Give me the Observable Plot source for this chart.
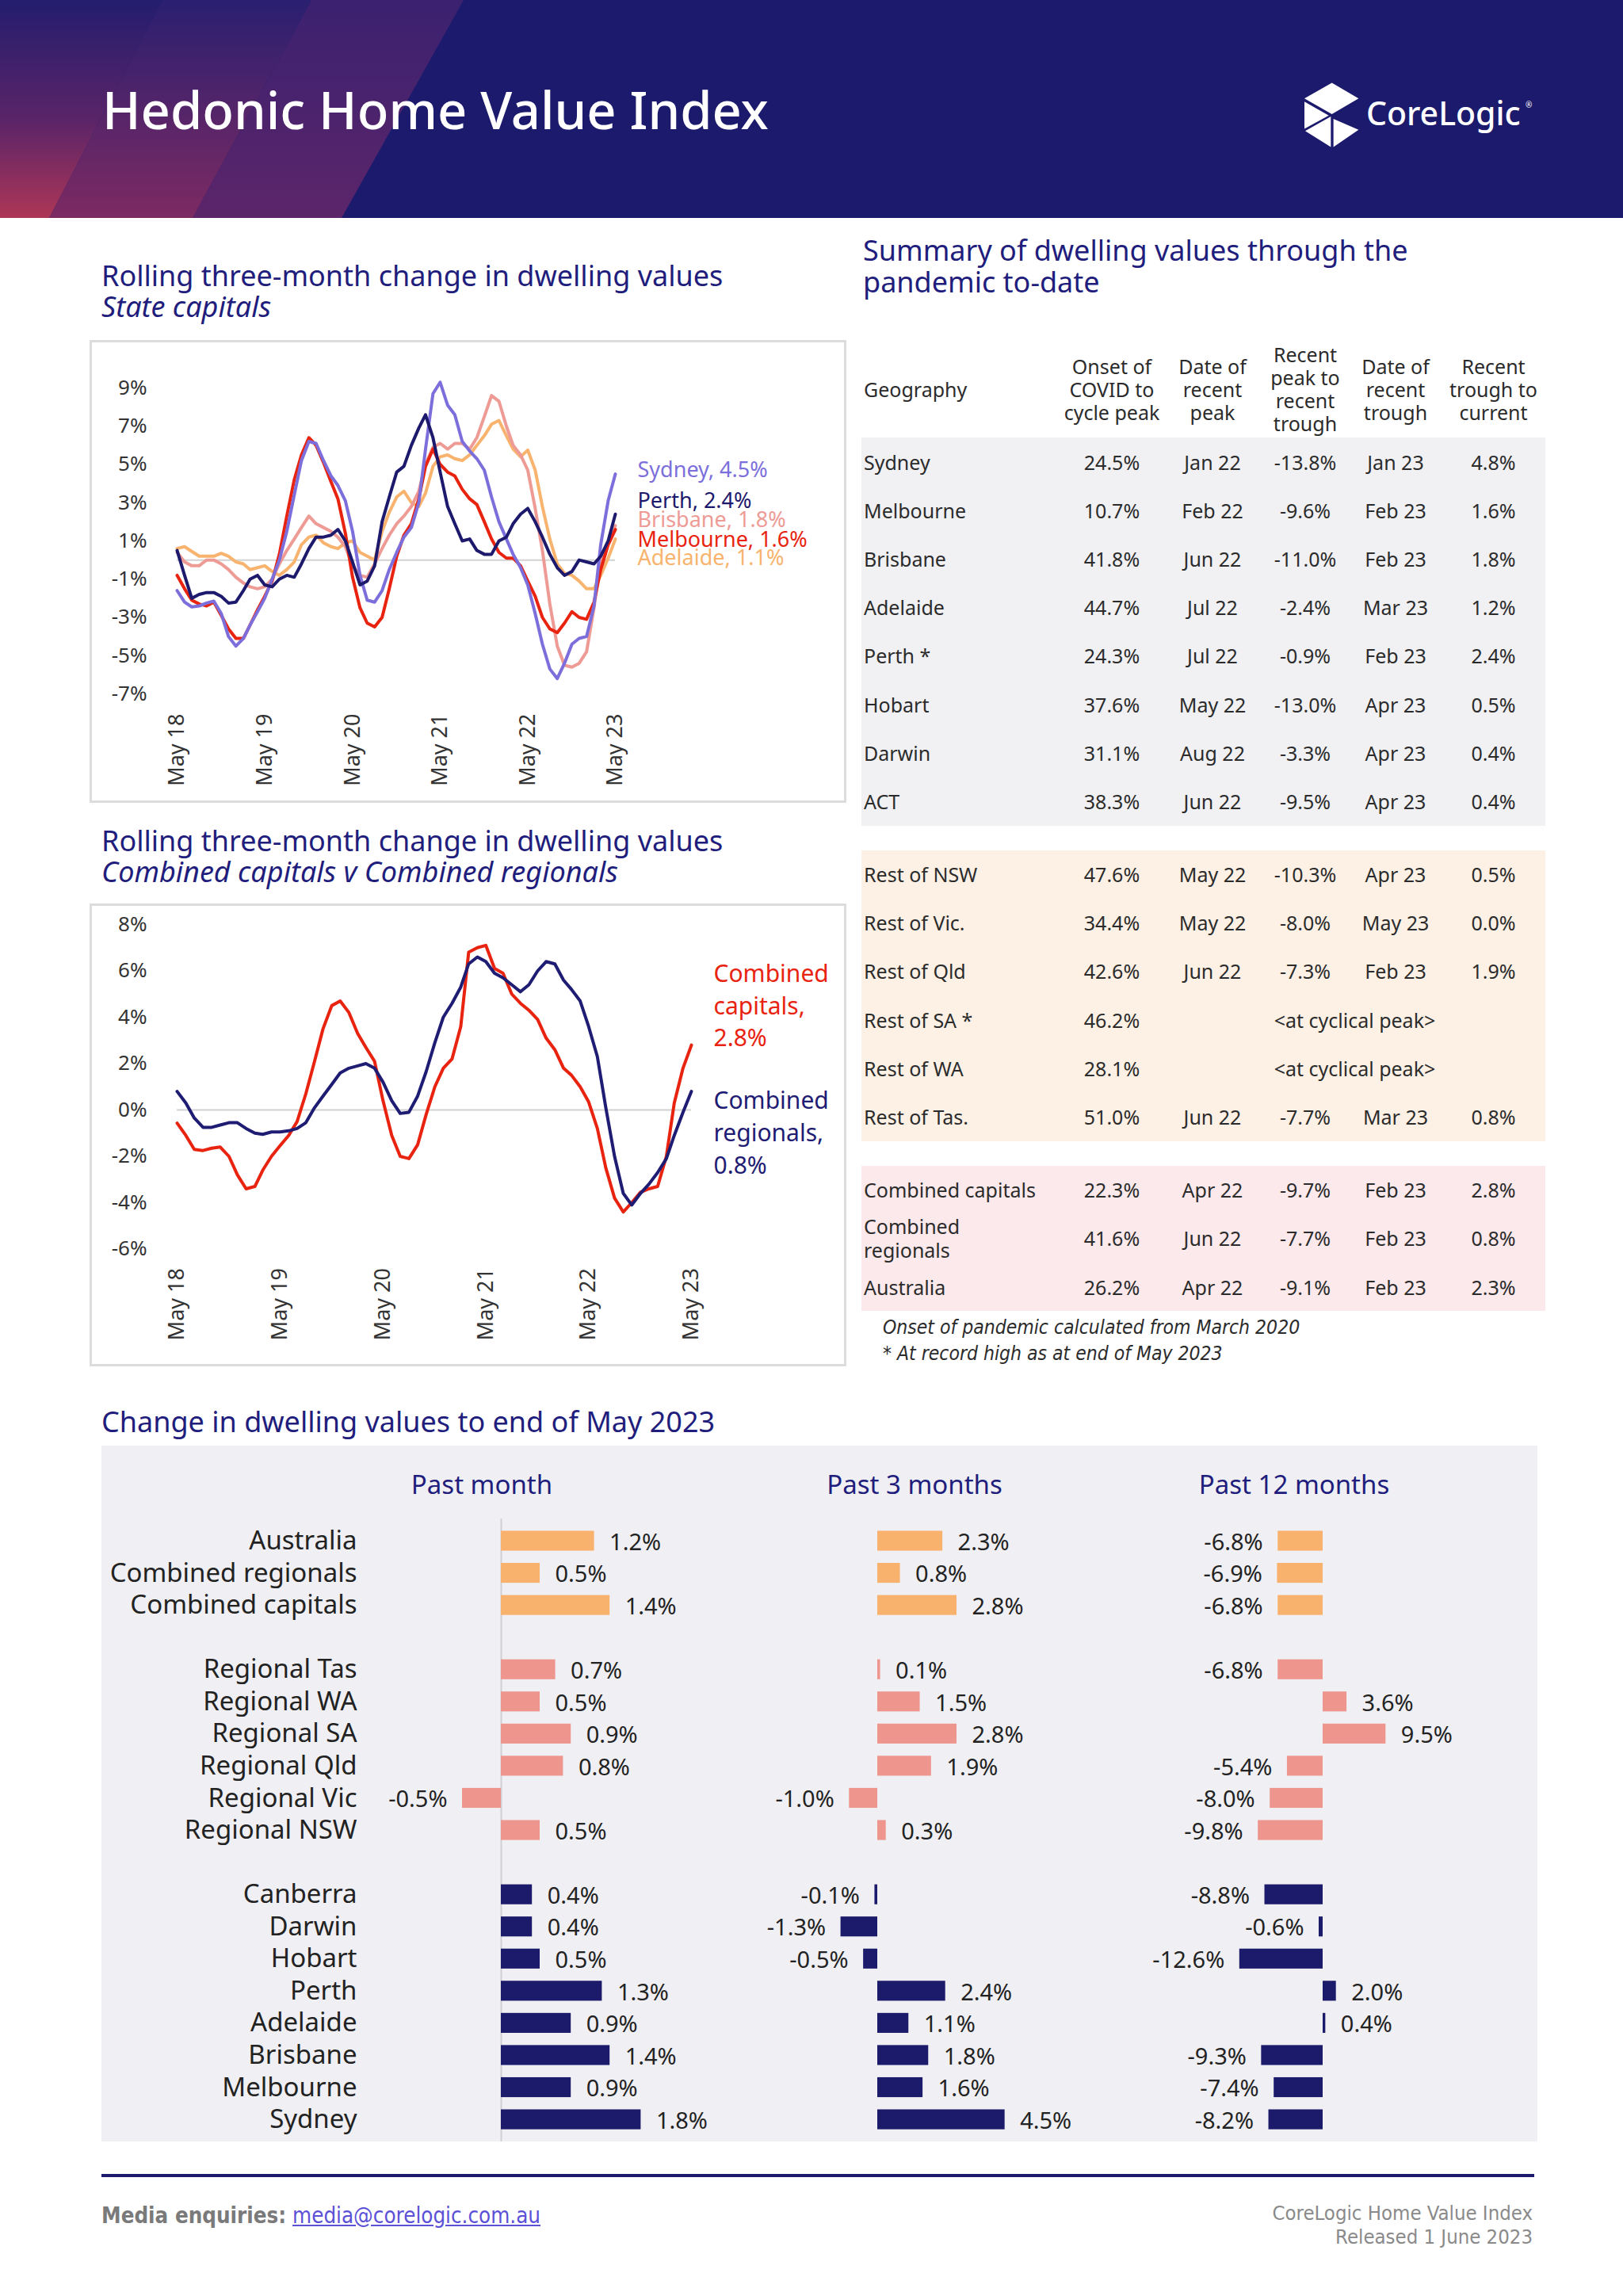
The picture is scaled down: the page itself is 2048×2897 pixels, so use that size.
<!DOCTYPE html>
<html>
<head>
<meta charset="utf-8">
<title>Hedonic Home Value Index</title>
<script src="https://cdn.jsdelivr.net/npm/d3@7"></script>
<script src="https://cdn.jsdelivr.net/npm/@observablehq/plot@0.6"></script>
<style>
html,body{margin:0;padding:0;background:#fff;}
#page{position:relative;width:2048px;height:2897px;overflow:hidden;background:#fff;font-family:"Noto Sans",sans-serif;color:#2b2b2b;}
.t{position:absolute;white-space:pre;}
#header{position:absolute;left:0;top:0;width:2048px;height:275px;background:#1c1a6c;overflow:hidden;}
.stripe{position:absolute;left:0;top:0;width:700px;height:275px;}
.box{position:absolute;border:3px solid #dcdcdc;box-sizing:border-box;}
.panel{position:absolute;background:#f0f0f4;}
table.summary{position:absolute;left:1087px;top:430px;width:863px;border-collapse:collapse;table-layout:fixed;font-size:25px;color:#2b2b2b;}
table.summary th{font-weight:400;height:122px;line-height:29px;padding:0;text-align:center;vertical-align:middle;white-space:pre-line;}
table.summary th.geo{text-align:left;padding-left:3px;}
table.summary td{height:61.2px;padding:0;text-align:center;vertical-align:middle;line-height:30px;white-space:pre-line;}
table.summary td.geo{text-align:left;padding-left:3px;}
table.summary tr.b0 td{background:#f1f1f4;}
table.summary tr.b1 td{background:#fdf1e6;}
table.summary tr.b2 td{background:#fbe9eb;}
table.summary tr.sp td{height:31px;background:transparent;}
svg.plot{position:absolute;}
a.mail{color:#5b50d6;text-decoration:underline;}
</style>
</head>
<body>
<div id="page">
  <div id="header">
    <div class="stripe" style="clip-path:polygon(393px 0,585px 0,431px 275px,243px 275px);background:linear-gradient(to bottom,#3b2170,#5c256a);"></div>
    <div class="stripe" style="clip-path:polygon(205px 0,393px 0,243px 275px,62px 275px);background:linear-gradient(to bottom,#2a1f70,#7d2a62);"></div>
    <div class="stripe" style="clip-path:polygon(0 0,205px 0,62px 275px,0 275px);background:linear-gradient(to bottom,#241d6e 0%,#5a2468 55%,#ad3656 100%);"></div>
    <svg style="position:absolute;left:1645px;top:103px;" width="70" height="84" viewBox="42 35 212 252">
      <polygon fill="#fff" points="45,98 150,38 252,98 150,158"/>
      <polygon fill="#fff" points="45,110 138,163 45,214"/>
      <polygon fill="#fff" points="48,222 146,167 146,284"/>
      <polygon fill="#fff" points="156,176 252,218 156,284"/>
    </svg>
  </div>
</div>
<script>
// ---------------- DATA ----------------
const monthStart = new Date(2018, 4, 1);
const monthEnd = new Date(2023, 5, 1);

// Rolling three-month change, state capitals (May 2018 .. May 2023, monthly)
const sydneyValues = [-1.6,-2.2,-2.45,-2.4,-2.25,-2.15,-2.8,-4.0,-4.5,-4.1,
  -3.4,-2.7,-2.0,-1.0,0.0,1.5,3.4,5.2,6.2,6.1,
  5.2,4.4,3.9,3.1,1.5,-0.8,-2.1,-2.2,-1.6,-0.5,
  0.4,1.2,1.7,3.0,5.8,8.7,9.3,8.1,7.6,6.2,
  5.7,5.3,4.7,3.3,2.0,1.1,0.3,-0.4,-1.3,-2.8,
  -4.4,-5.7,-6.2,-5.4,-4.4,-4.1,-4.0,-2.4,0.8,3.1,
  4.5];
const perthValues = [0.5,-0.8,-2.0,-1.8,-1.7,-1.7,-1.9,-2.25,-2.2,-1.6,
  -1.0,-0.8,-1.3,-1.4,-1.0,-0.8,-0.9,-0.2,0.6,1.2,
  1.2,1.3,1.6,1.0,-0.1,-1.3,-1.1,-0.3,2.0,3.3,
  4.6,4.9,6.0,6.9,7.6,6.4,4.6,2.8,1.9,1.0,
  1.1,0.5,0.3,0.3,1.0,1.2,1.9,2.4,2.7,2.0,
  1.2,0.3,-0.4,-0.8,-0.6,0.0,-0.1,-0.2,0.2,1.0,
  2.4];
const brisbaneValues = [0.4,-0.1,-0.3,-0.3,0.0,0.0,-0.2,-0.5,-0.9,-1.2,
  -1.4,-1.5,-1.4,-1.0,-0.2,0.5,1.1,1.7,2.3,1.9,
  1.7,1.5,1.2,0.7,-0.3,-0.8,-0.9,-0.2,0.6,1.3,
  1.9,2.3,2.8,3.6,5.0,5.9,6.1,5.8,6.1,6.1,
  5.8,6.4,7.5,8.6,8.3,7.0,6.0,5.5,4.7,2.7,
  0.5,-2.3,-4.5,-5.5,-5.6,-5.4,-4.8,-2.5,0.0,1.0,
  1.8];
const melbourneValues = [-0.8,-1.5,-2.1,-2.3,-2.4,-2.2,-2.9,-3.6,-4.1,-4.1,
  -3.4,-2.6,-1.9,-1.1,0.3,2.3,4.2,5.5,6.4,6.0,
  5.1,4.1,3.2,1.4,-0.9,-2.5,-3.3,-3.5,-3.0,-1.5,
  0.2,1.3,1.9,3.2,4.9,5.8,5.0,4.6,4.4,3.7,
  3.2,2.9,2.0,1.1,0.4,0.1,0.1,-0.3,-1.1,-1.9,
  -3.0,-3.6,-3.8,-3.3,-2.7,-3.0,-3.1,-2.2,-0.5,0.8,
  1.6];
const adelaideValues = [0.6,0.7,0.45,0.2,0.2,0.2,0.35,0.2,-0.1,-0.2,
  -0.5,-0.4,-0.3,-0.6,-0.8,-0.5,-0.1,0.8,1.2,1.3,
  0.9,0.7,0.6,0.9,1.0,0.4,0.2,0.0,1.5,2.5,
  3.3,3.6,3.0,2.8,3.5,4.9,5.4,5.5,5.3,5.2,
  5.5,6.0,6.5,7.1,7.3,6.5,5.8,5.4,5.75,4.7,
  2.8,1.1,-0.2,-0.7,-0.8,-1.1,-1.5,-1.5,-0.8,0.1,
  1.1];

// Rolling three-month change, combined capitals v combined regionals
const combinedCapitalsValues = [-0.57,-1.1,-1.7,-1.75,-1.65,-1.6,-2.0,-2.8,-3.4,-3.3,
  -2.6,-2.0,-1.55,-1.1,-0.5,0.7,2.1,3.5,4.5,4.7,
  4.2,3.3,2.7,2.1,0.4,-1.1,-2.0,-2.1,-1.5,-0.2,
  1.0,1.8,2.2,3.6,6.8,7.0,7.1,6.1,5.9,5.0,
  4.6,4.3,3.9,3.1,2.6,1.8,1.5,1.0,0.35,-0.8,
  -2.5,-3.8,-4.4,-4.0,-3.55,-3.4,-3.3,-2.0,0.3,1.8,
  2.8];
const combinedRegionalsValues = [0.8,0.3,-0.35,-0.75,-0.75,-0.65,-0.55,-0.55,-0.8,-1.0,
  -1.05,-0.95,-0.95,-0.9,-0.8,-0.55,0.1,0.6,1.1,1.6,
  1.8,1.9,2.0,1.8,1.2,0.4,-0.15,-0.1,0.6,1.65,
  2.9,4.0,4.6,5.3,6.3,6.6,6.4,5.9,5.7,5.4,
  5.1,5.4,6.0,6.4,6.3,5.6,5.2,4.7,3.6,2.3,
  0.1,-2.0,-3.6,-4.1,-3.6,-3.2,-2.7,-2.1,-1.1,-0.1,
  0.8];

const stateTicks = [9,7,5,3,1,-1,-3,-5,-7];
const combinedTicks = [8,6,4,2,0,-2,-4,-6];

// Summary table
const tableHeaders = ["Geography","Onset of\nCOVID to\ncycle peak","Date of\nrecent\npeak","Recent\npeak to\nrecent\ntrough","Date of\nrecent\ntrough","Recent\ntrough to\ncurrent"];
const geoNames = ["Sydney","Melbourne","Brisbane","Adelaide","Perth *","Hobart","Darwin","ACT",
  "Rest of NSW","Rest of Vic.","Rest of Qld","Rest of SA *","Rest of WA","Rest of Tas.",
  "Combined capitals","Combined\nregionals","Australia"];
const geoBlock = [0,0,0,0,0,0,0,0,1,1,1,1,1,1,2,2,2];
const onsetToPeak = ["24.5%","10.7%","41.8%","44.7%","24.3%","37.6%","31.1%","38.3%","47.6%","34.4%","42.6%","46.2%","28.1%","51.0%","22.3%","41.6%","26.2%"];
const recentPeakDate = ["Jan 22","Feb 22","Jun 22","Jul 22","Jul 22","May 22","Aug 22","Jun 22","May 22","May 22","Jun 22",null,null,"Jun 22","Apr 22","Jun 22","Apr 22"];
const peakToTrough = ["-13.8%","-9.6%","-11.0%","-2.4%","-0.9%","-13.0%","-3.3%","-9.5%","-10.3%","-8.0%","-7.3%",null,null,"-7.7%","-9.7%","-7.7%","-9.1%"];
const troughDate = ["Jan 23","Feb 23","Feb 23","Mar 23","Feb 23","Apr 23","Apr 23","Apr 23","Apr 23","May 23","Feb 23",null,null,"Mar 23","Feb 23","Feb 23","Feb 23"];
const troughToCurrent = ["4.8%","1.6%","1.8%","1.2%","2.4%","0.5%","0.4%","0.4%","0.5%","0.0%","1.9%",null,null,"0.8%","2.8%","0.8%","2.3%"];
const cyclicalPeakText = "<at cyclical peak>";
const tableNotes = ["Onset of pandemic calculated from March 2020","* At record high as at end of May 2023"];

// Change in dwelling values to end of May 2023
const barCategories = ["Australia","Combined regionals","Combined capitals",
  "Regional Tas","Regional WA","Regional SA","Regional Qld","Regional Vic","Regional NSW",
  "Canberra","Darwin","Hobart","Perth","Adelaide","Brisbane","Melbourne","Sydney"];
const barGroups = ["national","national","national",
  "regional","regional","regional","regional","regional","regional",
  "capital","capital","capital","capital","capital","capital","capital","capital"];
const pastMonth =    [1.2,0.5,1.4, 0.7,0.5,0.9,0.8,-0.5,0.5, 0.4,0.4,0.5,1.3,0.9,1.4,0.9,1.8];
const past3Months =  [2.3,0.8,2.8, 0.1,1.5,2.8,1.9,-1.0,0.3, -0.1,-1.3,-0.5,2.4,1.1,1.8,1.6,4.5];
const past12Months = [-6.8,-6.9,-6.8, -6.8,3.6,9.5,-5.4,-8.0,-9.8, -8.8,-0.6,-12.6,2.0,0.4,-9.3,-7.4,-8.2];
const panelTitles = ["Past month","Past 3 months","Past 12 months"];

// ---------------- STYLE ----------------
const NAVY = "#1d1a6d";
const TITLE = "#211d7c";
const stateColors = {Sydney:"#7c6fdb", Perth:"#1d1a6d", Brisbane:"#ee9b95", Melbourne:"#e8230f", Adelaide:"#f8b36e"};
const groupOrder = ["national","regional","capital"];
const groupColors = ["#f9b26e","#ee968e","#1b1a6b"];
const FONT = "'Noto Sans', sans-serif";
const NARROW = "'Liberation Sans Narrow','DejaVu Sans Condensed','Arial Narrow',sans-serif";

// ---------------- HELPERS ----------------
const page = document.getElementById("page");
const header = document.getElementById("header");
function addText(str, o) {
  const el = document.createElement("div");
  el.className = "t";
  el.textContent = str;
  const fs = o.size, lh = o.lh || fs;
  const asc = o.asc ?? 1.069, desc = o.desc ?? 0.293;
  el.style.top = (o.baseline - ((lh - (asc + desc) * fs) / 2 + asc * fs)) + "px";
  el.style.fontSize = fs + "px";
  el.style.lineHeight = lh + "px";
  if (o.right != null) { el.style.right = (2048 - o.right) + "px"; el.style.textAlign = "right"; }
  else if (o.center != null) { el.style.left = (o.center - 400) + "px"; el.style.width = "800px"; el.style.textAlign = "center"; }
  else el.style.left = o.left + "px";
  if (o.color) el.style.color = o.color;
  if (o.weight) el.style.fontWeight = o.weight;
  if (o.italic) el.style.fontStyle = "italic";
  if (o.family) el.style.fontFamily = o.family;
  (o.parent || page).appendChild(el);
  return el;
}
function place(svg, left, top) {
  svg.classList.add("plot");
  svg.style.left = left + "px";
  svg.style.top = top + "px";
  page.appendChild(svg);
}

// ---------------- HEADER ----------------
addText("Hedonic Home Value Index", {left: 129, baseline: 164, size: 65, color: "#fff", weight: 500, parent: header});
addText("CoreLogic", {left: 1724, baseline: 158, size: 41, color: "#fff", weight: 500, parent: header});
addText("®", {left: 1925, baseline: 136, size: 10, color: "#fff", parent: header});

// ---------------- SECTION TITLES ----------------
addText("Rolling three-month change in dwelling values", {left: 128, baseline: 362, size: 36, color: TITLE});
addText("State capitals", {left: 128, baseline: 401, size: 36, color: TITLE, italic: true});
addText("Rolling three-month change in dwelling values", {left: 128, baseline: 1075, size: 36, color: TITLE});
addText("Combined capitals v Combined regionals", {left: 128, baseline: 1114, size: 36, color: TITLE, italic: true});
addText("Summary of dwelling values through the", {left: 1089, baseline: 330, size: 36, color: TITLE});
addText("pandemic to-date", {left: 1089, baseline: 370, size: 36, color: TITLE});
addText("Change in dwelling values to end of May 2023", {left: 128, baseline: 1808, size: 36, color: TITLE});

// ---------------- LINE CHARTS ----------------
const months = d3.timeMonth.range(monthStart, monthEnd);
const mayTicks = months.filter(d => d.getMonth() === 4);

function lineChart(cfg) {
  const data = cfg.series.flatMap(s => s.values.map((v, i) => ({date: months[i], value: v, name: s.name})));
  const labels = cfg.series.map(s => ({
    date: months[months.length - 1],
    value: s.values[s.values.length - 1],
    name: s.name,
    label: cfg.labelText(s)
  }));
  const marks = [
    Plot.ruleY([0], {stroke: "#d2d2d2", strokeWidth: 2}),
    Plot.line(data, {x: "date", y: "value", z: "name", stroke: "name", strokeWidth: 4, curve: "linear"}),
    Plot.axisY({ticks: cfg.yTicks, tickFormat: d => `${d}%`, tickSize: 0, tickPadding: cfg.yPad, label: null}),
    Plot.axisX({ticks: mayTicks, tickFormat: d => `May ${String(d.getFullYear()).slice(2)}`, tickRotate: -90, tickSize: 0, tickPadding: cfg.xPad, label: null, fontSize: 27}),
    ...labels.map(p => Plot.text([p], {
      x: "date", y: "value", text: "label", fill: cfg.colors[p.name],
      textAnchor: "start", lineAnchor: "middle", dx: cfg.labelDx, dy: cfg.labelDy[p.name],
      fontSize: cfg.labelSize, lineHeight: cfg.labelLH
    }))
  ];
  return Plot.plot({
    width: cfg.width, height: cfg.height,
    marginLeft: cfg.mL, marginRight: cfg.mR, marginTop: cfg.mT, marginBottom: cfg.mB,
    x: {type: "time", domain: [months[0], months[months.length - 1]], label: null},
    y: {domain: cfg.yDomain, label: null},
    color: {domain: cfg.series.map(s => s.name), range: cfg.series.map(s => cfg.colors[s.name])},
    style: {fontFamily: FONT, fontSize: "26px", color: "#333", background: "transparent", overflow: "visible"},
    marks
  });
}

// chart 1 box
const box1 = document.createElement("div");
box1.className = "box";
Object.assign(box1.style, {left: "113px", top: "429px", width: "955px", height: "584px"});
page.appendChild(box1);
const stateSeries = [
  {name: "Adelaide", values: adelaideValues},
  {name: "Brisbane", values: brisbaneValues},
  {name: "Melbourne", values: melbourneValues},
  {name: "Sydney", values: sydneyValues},
  {name: "Perth", values: perthValues}
];
place(lineChart({
  series: stateSeries, colors: stateColors,
  labelText: s => `${s.name}, ${s.values[s.values.length - 1].toFixed(1)}%`,
  width: 955, height: 584, mL: 110, mR: 292, mT: 60, mB: 138,
  yDomain: [-7, 9], yTicks: stateTicks, yPad: 38, xPad: 25,
  labelSize: 27, labelLH: 1, labelDx: 28,
  labelDy: {Sydney: -5, Perth: -16, Brisbane: -7, Melbourne: 13, Adelaide: 24}
}), 113, 429);

// chart 2 box
const box2 = document.createElement("div");
box2.className = "box";
Object.assign(box2.style, {left: "113px", top: "1140px", width: "955px", height: "584px"});
page.appendChild(box2);
const combinedSeries = [
  {name: "Combined capitals", values: combinedCapitalsValues},
  {name: "Combined regionals", values: combinedRegionalsValues}
];
place(lineChart({
  series: combinedSeries, colors: {"Combined capitals": "#e8230f", "Combined regionals": "#1f1c74"},
  labelText: s => { const w = s.name.split(" "); return `${w[0]}\n${w[1]},\n${s.values[s.values.length - 1].toFixed(1)}%`; },
  width: 955, height: 584, mL: 110, mR: 196, mT: 26, mB: 148.5,
  yDomain: [-6, 8], yTicks: combinedTicks, yPad: 38, xPad: 24,
  labelSize: 30, labelLH: 1.355, labelDx: 28,
  labelDy: {"Combined capitals": -52, "Combined regionals": 50}
}), 113, 1140);

// ---------------- SUMMARY TABLE ----------------
(function buildTable() {
  const tbl = document.createElement("table");
  tbl.className = "summary";
  const cg = document.createElement("colgroup");
  [250, 132, 122, 112, 116, 131].forEach(w => { const c = document.createElement("col"); c.style.width = w + "px"; cg.appendChild(c); });
  tbl.appendChild(cg);
  const thead = document.createElement("thead");
  const hr = document.createElement("tr");
  tableHeaders.forEach((h, i) => { const th = document.createElement("th"); th.textContent = h; if (i === 0) th.className = "geo"; hr.appendChild(th); });
  thead.appendChild(hr);
  tbl.appendChild(thead);
  const tb = document.createElement("tbody");
  geoNames.forEach((name, i) => {
    if (i > 0 && geoBlock[i] !== geoBlock[i - 1]) {
      const sp = document.createElement("tr"); sp.className = "sp";
      const td = document.createElement("td"); td.colSpan = 6; sp.appendChild(td); tb.appendChild(sp);
    }
    const tr = document.createElement("tr");
    tr.className = "b" + geoBlock[i];
    const cells = [];
    const g = document.createElement("td"); g.className = "geo"; g.textContent = name; cells.push(g);
    const o = document.createElement("td"); o.textContent = onsetToPeak[i]; cells.push(o);
    if (recentPeakDate[i] == null) {
      const c = document.createElement("td"); c.colSpan = 4; c.textContent = cyclicalPeakText; cells.push(c);
    } else {
      [recentPeakDate[i], peakToTrough[i], troughDate[i], troughToCurrent[i]].forEach(v => {
        const c = document.createElement("td"); c.textContent = v; cells.push(c);
      });
    }
    cells.forEach(c => tr.appendChild(c));
    tb.appendChild(tr);
  });
  tbl.appendChild(tb);
  page.appendChild(tbl);
})();
addText(tableNotes[0], {left: 1114, baseline: 1684, size: 24.5, italic: true, family: NARROW, asc: 0.905, desc: 0.212, color: "#2b2b2b"});
addText(tableNotes[1], {left: 1114, baseline: 1717, size: 24.5, italic: true, family: NARROW, asc: 0.905, desc: 0.212, color: "#2b2b2b"});

// ---------------- BAR PANELS ----------------
const panel = document.createElement("div");
panel.className = "panel";
Object.assign(panel.style, {left: "128px", top: "1824px", width: "1812px", height: "878px"});
page.appendChild(panel);

const slots = [...barCategories.slice(0, 3), "gap-1", ...barCategories.slice(3, 9), "gap-2", ...barCategories.slice(9)];
const rowStep = 40.56, bandPad = 0.38, firstRowY = 1944, barTop = 1898;
const rangeStart = firstRowY - rowStep * (1 + bandPad) / 2;
const rangeLen = rowStep * (slots.length + bandPad);

function barPanel(values, cfg) {
  const data = barCategories.map((c, i) => ({category: c, value: values[i], group: barGroups[i]}));
  const mT = rangeStart - barTop, mB = 12;
  const x0 = cfg.left + cfg.marginLeft, x1 = cfg.left + cfg.width;
  const marks = [];
  if (cfg.zeroRule) marks.push(Plot.ruleX([0], {stroke: "#cfcfd4", strokeWidth: 2}));
  marks.push(Plot.barX(data, {x: "value", y: "category", fill: "group"}));
  const fmt = d => `${d.value.toFixed(1)}%`;
  marks.push(Plot.text(data.filter(d => d.value >= 0), {x: "value", y: "category", text: fmt, textAnchor: "start", dx: 19, dy: 2, fill: "#222", fontSize: 29}));
  marks.push(Plot.text(data.filter(d => d.value < 0), {x: "value", y: "category", text: fmt, textAnchor: "end", dx: -19, dy: 2, fill: "#222", fontSize: 29}));
  if (cfg.axis) marks.push(Plot.axisY({ticks: barCategories, tickSize: 0, tickPadding: cfg.tickPadding, fontSize: 33, label: null}));
  return Plot.plot({
    width: cfg.width, height: mT + rangeLen + mB,
    marginLeft: cfg.marginLeft, marginRight: 0, marginTop: mT, marginBottom: mB,
    x: {domain: [(x0 - cfg.zero) / cfg.k, (x1 - cfg.zero) / cfg.k], axis: null},
    y: {domain: slots, padding: bandPad, round: false, label: null, axis: cfg.axis ? undefined : null},
    color: {domain: groupOrder, range: groupColors},
    style: {fontFamily: FONT, fontSize: "29px", color: "#222", background: "transparent", overflow: "visible"},
    marks
  });
}
place(barPanel(pastMonth, {left: 128, width: 780, marginLeft: 330, zero: 632, k: 98, axis: true, tickPadding: 8, zeroRule: true}), 128, barTop);
place(barPanel(past3Months, {left: 908, width: 500, marginLeft: 0, zero: 1107, k: 35.7}), 908, barTop);
place(barPanel(past12Months, {left: 1408, width: 530, marginLeft: 0, zero: 1669, k: 8.35}), 1408, barTop);
addText(panelTitles[0], {center: 608, baseline: 1885, size: 33, color: TITLE});
addText(panelTitles[1], {center: 1154, baseline: 1885, size: 33, color: TITLE});
addText(panelTitles[2], {center: 1633, baseline: 1885, size: 33, color: TITLE});

// ---------------- FOOTER ----------------
const rule = document.createElement("div");
Object.assign(rule.style, {position: "absolute", left: "128px", top: "2743px", width: "1808px", height: "4px", background: NAVY});
page.appendChild(rule);
const media = addText("", {left: 128, baseline: 2805, size: 27.5, family: NARROW, asc: 0.905, desc: 0.212, color: "#7a7a7a"});
media.innerHTML = '<b>Media enquiries:</b> <a class="mail">media@corelogic.com.au</a>';
addText("CoreLogic Home Value Index", {right: 1934, baseline: 2802, size: 25.5, family: NARROW, asc: 0.905, desc: 0.212, color: "#8a8a8a"});
addText("Released 1 June 2023", {right: 1934, baseline: 2832, size: 25.5, family: NARROW, asc: 0.905, desc: 0.212, color: "#8a8a8a"});
</script>
</body>
</html>
